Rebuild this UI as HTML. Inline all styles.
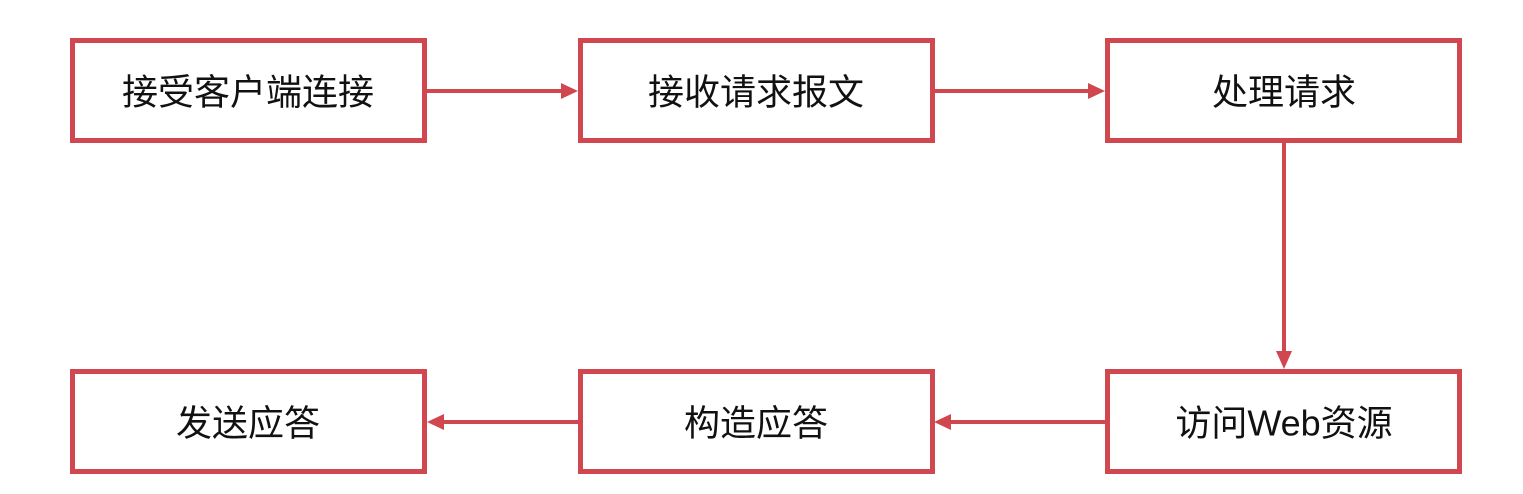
<!DOCTYPE html>
<html><head><meta charset="utf-8"><style>
html,body{margin:0;padding:0;background:#fff;}
svg{display:block;}
text{font-family:"Liberation Sans","Noto Sans CJK SC",sans-serif;font-size:36px;fill:#111;text-anchor:middle;dominant-baseline:central;}
</style></head><body>
<svg width="1523" height="494" viewBox="0 0 1523 494" xmlns="http://www.w3.org/2000/svg">
<g fill="#fff" stroke="#d1474f" stroke-width="5">
<rect x="72.5" y="40.5" width="352" height="100"/>
<rect x="580.5" y="40.5" width="352" height="100"/>
<rect x="1107.5" y="40.5" width="352" height="100"/>
<rect x="72.5" y="371.5" width="352" height="100"/>
<rect x="580.5" y="371.5" width="352" height="100"/>
<rect x="1107.5" y="371.5" width="352" height="100"/>
</g>
<g stroke="#d1474f" stroke-width="4">
<line x1="427" y1="91" x2="564" y2="91"/>
<line x1="935" y1="91" x2="1091" y2="91"/>
<line x1="1284" y1="143" x2="1284" y2="354"/>
<line x1="1105" y1="422" x2="948" y2="422"/>
<line x1="578" y1="422" x2="442" y2="422"/>
</g>
<g fill="#d1474f">
<polygon points="561,83 578,91 561,99"/>
<polygon points="1088,83 1105,91 1088,99"/>
<polygon points="1276,351 1284,369 1292,351"/>
<polygon points="951,414 934,422 951,430"/>
<polygon points="444,414 427,422 444,430"/>
</g>
<text x="248" y="92">接受客户端连接</text>
<text x="756" y="92">接收请求报文</text>
<text x="1284" y="92">处理请求</text>
<text x="248" y="423">发送应答</text>
<text x="756" y="423">构造应答</text>
<text x="1284" y="423">访问Web资源</text>
</svg>
</body></html>
